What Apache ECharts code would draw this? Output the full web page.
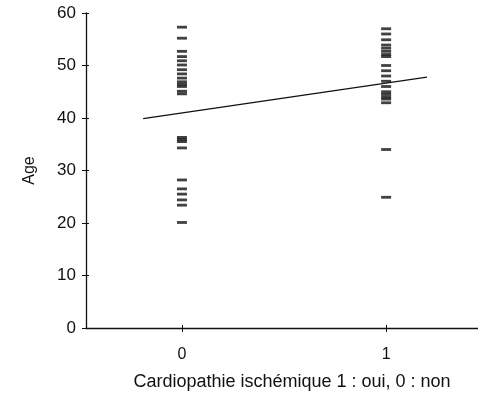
<!DOCTYPE html>
<html>
<head>
<meta charset="utf-8">
<script src="https://cdn.jsdelivr.net/npm/echarts@6/dist/echarts.min.js"></script>
<style>html,body{margin:0;padding:0;background:#fff}#c{width:478px;height:396px}</style>
</head>
<body>
<div id="c"></div>
<script>
const groupCategories = [0, 1];
const agesGroup0 = [57.3, 55.2, 52.7, 51.7, 50.9, 50.1, 49.2, 48.4, 47.6, 46.9, 46.4, 46.0, 45.1, 44.6,
  36.3, 35.9, 35.5, 34.3,
  28.2, 26.5, 25.5, 24.4, 23.4, 20.1];
const agesGroup1 = [57.0, 56.0, 54.9, 53.9, 53.3, 52.7, 52.1, 51.7, 50.0, 49.0, 48.0, 47.0, 46.0, 45.0, 44.5, 44.0, 43.6, 42.9,
  34.0, 24.9];
const regressionLine = [[-0.19, 39.9], [1.2, 47.8]];
const yTicks = [0, 10, 20, 30, 40, 50, 60];

const scatterData = [];
agesGroup0.forEach(a => scatterData.push([groupCategories[0], a]));
agesGroup1.forEach(a => scatterData.push([groupCategories[1], a]));

const font = 'Liberation Sans, Arial, sans-serif';
const xRange = { min: -0.47, max: 1.45 };
const yRange = { min: 0, max: 60, interval: 10 };
const chart = echarts.init(document.getElementById('c'));
chart.setOption({
  animation: false,
  backgroundColor: '#fff',
  grid: { left: 86, right: 0, top: 13, bottom: 68 },
  xAxis: [{
    type: 'value', ...xRange, position: 'bottom',
    name: 'Cardiopathie ischémique 1 : oui, 0 : non',
    nameLocation: 'middle', nameGap: 45,
    nameTextStyle: { color: '#111', fontSize: 18, fontFamily: font, padding: [0, 0, 0, 20] },
    axisLine: { show: true, onZero: false, lineStyle: { color: '#111', width: 1.3 } },
    axisTick: { show: true, length: 4, customValues: groupCategories, lineStyle: { color: '#111' } },
    axisLabel: { customValues: groupCategories, margin: 19, color: '#111', fontSize: 16, fontFamily: font },
    splitLine: { show: false }
  }, {
    type: 'value', ...xRange, position: 'bottom',
    axisLine: { show: false, onZero: false },
    axisTick: { show: true, inside: true, length: 3, customValues: groupCategories, lineStyle: { color: '#111' } },
    axisLabel: { show: false },
    splitLine: { show: false }
  }],
  yAxis: [{
    type: 'value', ...yRange, position: 'left',
    name: 'Age', nameLocation: 'middle', nameGap: 48, nameRotate: 90,
    nameTextStyle: { color: '#111', fontSize: 16, fontFamily: font },
    axisLine: { show: true, onZero: false, lineStyle: { color: '#111', width: 1.3 } },
    axisTick: { show: true, length: 4, lineStyle: { color: '#111' } },
    axisLabel: { margin: 10, color: '#111', fontSize: 17, fontFamily: font,
      formatter: v => yTicks.includes(v) ? String(v) : '' },
    splitLine: { show: false }
  }, {
    type: 'value', ...yRange, position: 'left',
    axisLine: { show: false, onZero: false },
    axisTick: { show: true, inside: true, length: 3, lineStyle: { color: '#111' } },
    axisLabel: { show: false },
    splitLine: { show: false }
  }],
  series: [
    {
      type: 'scatter', data: scatterData, xAxisIndex: 0, yAxisIndex: 0,
      symbol: 'rect', symbolSize: [10, 2.8],
      itemStyle: { color: '#111' }
    },
    {
      type: 'line', data: regressionLine, xAxisIndex: 0, yAxisIndex: 0,
      showSymbol: false, symbol: 'none',
      lineStyle: { color: '#111', width: 1.3 }
    }
  ]
});
</script>
</body>
</html>
